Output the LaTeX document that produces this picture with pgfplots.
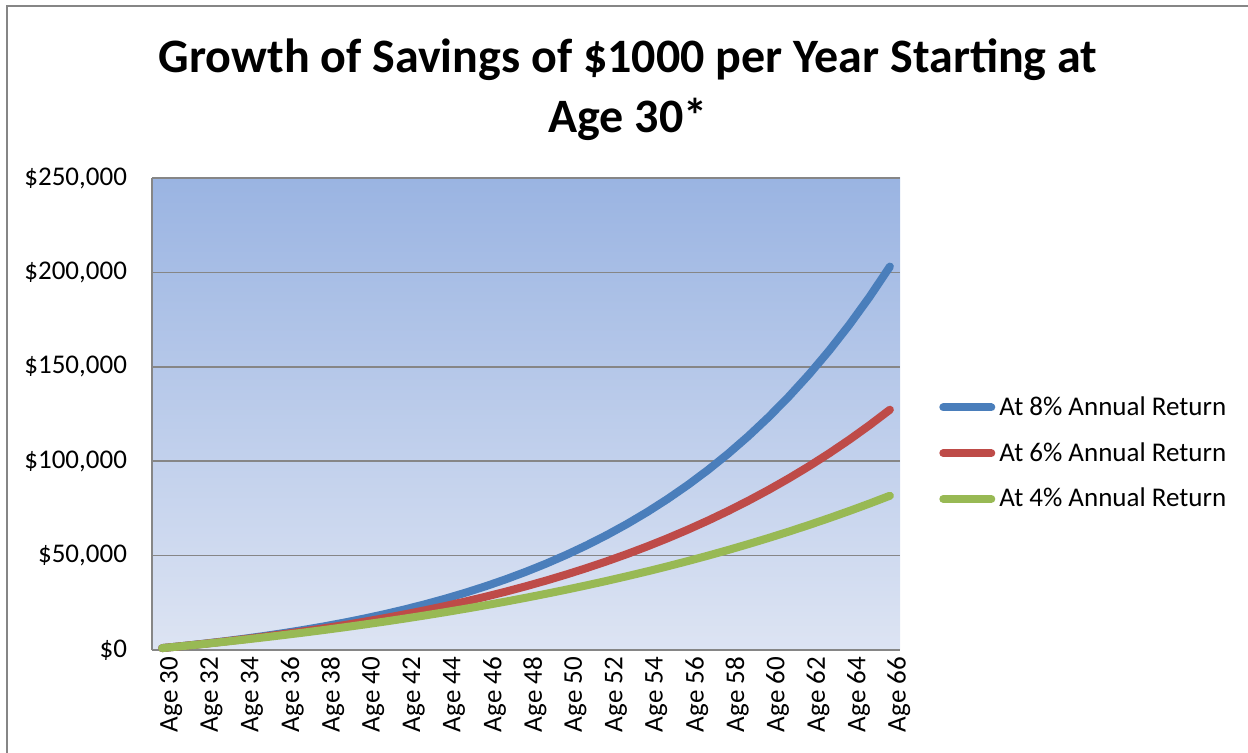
\documentclass[border=0pt]{standalone}
\usepackage{pgfplots}
\pgfplotsset{compat=1.18}
\usepackage{fontspec}
\setmainfont{Carlito}
\definecolor{s8}{HTML}{4A7EBB}
\definecolor{s6}{HTML}{BE4B48}
\definecolor{s4}{HTML}{98B954}
\definecolor{bgtop}{HTML}{9AB4E2}
\definecolor{bgbot}{HTML}{DDE4F3}
\definecolor{gridc}{HTML}{868686}
\pgfplotstableread{
x r8 r6 r4
0 1000 1000 1000
1 2080 2060 2040
2 3246 3184 3122
3 4506 4375 4246
4 5867 5637 5416
5 7336 6975 6633
6 8923 8394 7898
7 10637 9897 9214
8 12488 11491 10583
9 14487 13181 12006
10 16645 14972 13486
11 18977 16870 15026
12 21495 18882 16627
13 24215 21015 18292
14 27152 23276 20024
15 30324 25673 21825
16 33750 28213 23698
17 37450 30906 25645
18 41446 33760 27671
19 45762 36786 29778
20 50423 39993 31969
21 55457 43392 34248
22 60893 46996 36618
23 66765 50816 39083
24 73106 54865 41646
25 79954 59156 44312
26 87351 63706 47084
27 95339 68528 49968
28 103966 73640 52966
29 113283 79058 56085
30 123346 84802 59328
31 134214 90890 62701
32 145951 97343 66210
33 158627 104184 69858
34 172317 111435 73652
35 187102 119121 77598
36 203070 127268 81702
}\data
\begin{document}
\begin{tikzpicture}
\path[use as bounding box] (0pt,0pt) rectangle (624pt,376.5pt);
\draw[gridc, line width=0.8pt] (3.5pt,0pt) -- (3.5pt,373.5pt) -- (624pt,373.5pt);
\node[font=\bfseries\fontsize{24}{30}\selectfont, align=center] at (314pt,331.5pt) {Growth of Savings of \$1000 per Year Starting at\\Age 30*};
\begin{axis}[
  at={(76pt,51.5pt)}, anchor=south west,
  scale only axis, width=374pt, height=236pt,
  xmin=-0.5, xmax=36.5, ymin=0, ymax=250000,
  scaled y ticks=false,
  axis background/.style={top color=bgtop, bottom color=bgbot},
  axis line style={gridc, line width=0.8pt},
  axis x line*=bottom, axis y line*=left,
  ymajorgrids, grid style={gridc, line width=0.8pt},
  ytick={0,50000,100000,150000,200000,250000},
  yticklabels={\$0,\$50{,}000,\$100{,}000,\$150{,}000,\$200{,}000,\$250{,}000},
  xtick={0,2,...,36},
  xticklabels={Age 30,Age 32,Age 34,Age 36,Age 38,Age 40,Age 42,Age 44,Age 46,Age 48,Age 50,Age 52,Age 54,Age 56,Age 58,Age 60,Age 62,Age 64,Age 66},
  major tick length=0pt,
  ticklabel style={font=\fontsize{13.5}{15}\selectfont},
  yticklabel style={xshift=-9pt},
  xticklabel style={rotate=90, anchor=east, yshift=-4.5pt},
  legend style={at={(1.052,0.417)}, anchor=west, draw=none, fill=none,
    font=\fontsize{13.5}{15}\selectfont, row sep=8pt, inner sep=0pt,
    legend cell align=left},
  legend image code/.code={\draw[#1, line width=4pt, line cap=round] (0pt,0pt) -- (24pt,0pt);},
  clip=false,
]
\addplot[s8, line width=4pt, line cap=round, line join=round] table[x=x,y=r8] {\data};
\addlegendentry{At 8\% Annual Return}
\addplot[s6, line width=4pt, line cap=round, line join=round] table[x=x,y=r6] {\data};
\addlegendentry{At 6\% Annual Return}
\addplot[s4, line width=4pt, line cap=round, line join=round] table[x=x,y=r4] {\data};
\addlegendentry{At 4\% Annual Return}
\end{axis}
\end{tikzpicture}
\end{document}
